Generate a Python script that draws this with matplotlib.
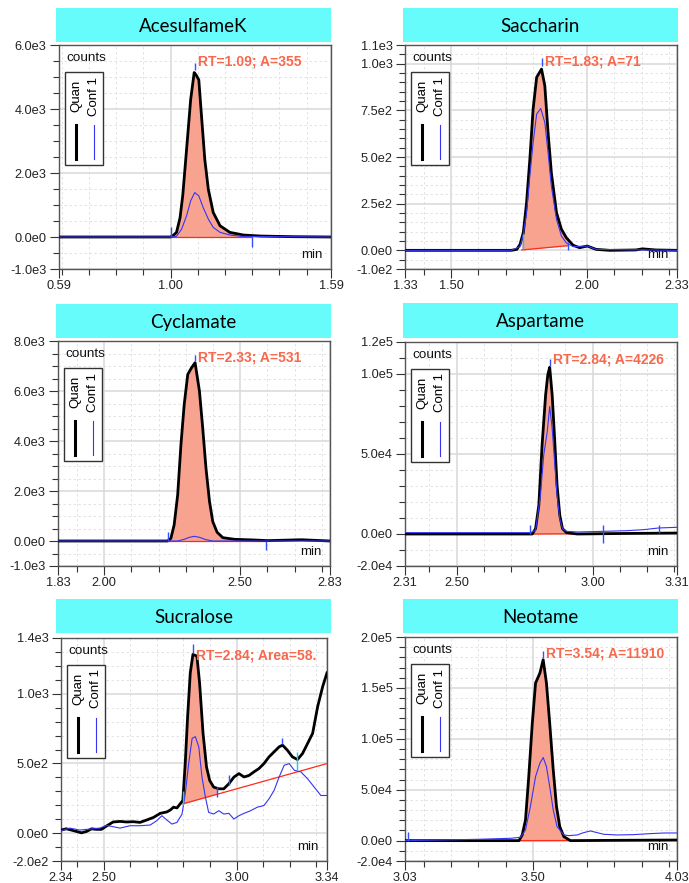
import numpy as np
import matplotlib
matplotlib.use('Agg')
import matplotlib.pyplot as plt
import matplotlib.transforms as mtransforms
from matplotlib.patches import Rectangle
from matplotlib.lines import Line2D
from matplotlib.ticker import FixedLocator, MultipleLocator, FuncFormatter

plt.rcParams['font.family'] = ['Liberation Sans', 'DejaVu Sans']

W, H = 689, 883

names = ['AcesulfameK', 'Saccharin', 'Cyclamate', 'Aspartame', 'Sucralose', 'Neotame']
rt = [1.089, 1.832, 2.334, 2.842, 2.838, 3.539]
rt_text = ['RT=1.09; A=355', 'RT=1.83; A=71', 'RT=2.33; A=531',
           'RT=2.84; A=4226', 'RT=2.84; Area=58.', 'RT=3.54; A=11910']

# AcesulfameK
ace_q_t = [0.59, 0.80, 1.00, 1.010, 1.022, 1.035, 1.045, 1.059, 1.074, 1.087, 1.095, 1.104,
           1.114, 1.126, 1.139, 1.157, 1.182, 1.218, 1.268, 1.33, 1.45, 1.59]
ace_q = [0, 0, 0, 50, 145, 600, 1300, 2735, 4290, 5140, 5050, 4910,
         3770, 2425, 1490, 767, 352, 145, 62, 30, 10, 0]
ace_c_t = [0.59, 1.00, 1.022, 1.041, 1.059, 1.074, 1.089, 1.104, 1.120, 1.139, 1.157, 1.182,
           1.218, 1.26, 1.59]
ace_c = [0, 0, 20, 250, 663, 1130, 1388, 1285, 922, 560, 300, 145, 62, 20, 0]
ace_base_t = [1.00, 1.30]
ace_base = [0, 0]
ace_marks = [(1.002, 0, 300, 'b'), (1.30, -300, 0, 'b'), (1.089, 5220, 5450, 'b')]

# Saccharin
sac_q_t = [1.33, 1.60, 1.72, 1.741, 1.753, 1.765, 1.777, 1.789, 1.801, 1.814, 1.832, 1.844,
           1.856, 1.868, 1.887, 1.905, 1.923, 1.948, 1.972, 2.000, 2.033, 2.082, 2.179,
           2.203, 2.252, 2.33]
sac_q = [0, 0, 0, 5, 32, 95, 256, 488, 757, 927, 971, 882,
         631, 417, 202, 113, 68, 27, 14, 23, 5, 0, 2, 8, 2, 0]
sac_c_t = [1.33, 1.72, 1.753, 1.765, 1.777, 1.789, 1.801, 1.814, 1.829, 1.844, 1.856, 1.868,
           1.887, 1.905, 1.923, 1.948, 2.00, 2.033, 2.33]
sac_c = [0, 0, 20, 86, 202, 399, 578, 730, 760, 685, 524, 345, 166, 77, 40, 20, 23, 5, 0]
sac_base_t = [1.759, 1.929]
sac_base = [2, 25]
sac_marks = [(1.762, 5, 90, 'c'), (1.930, 2, 45, 'b'), (1.832, 985, 1030, 'b')]

# Cyclamate
cyc_q_t = [1.83, 2.10, 2.233, 2.245, 2.257, 2.270, 2.282, 2.294, 2.307, 2.321, 2.334, 2.350,
           2.362, 2.374, 2.387, 2.399, 2.415, 2.436, 2.479, 2.553, 2.602, 2.725, 2.83]
cyc_q = [0, 0, 0, 107, 642, 1846, 3853, 5459, 6663, 6931, 7131, 5994,
         4522, 2917, 1579, 776, 348, 134, 67, 40, 15, 50, 0]
cyc_c_t = [1.83, 2.20, 2.270, 2.294, 2.313, 2.331, 2.350, 2.374, 2.399, 2.83]
cyc_c = [0, 0, 0, 67, 147, 187, 147, 54, 0, 0]
cyc_base_t = [2.233, 2.593]
cyc_base = [0, 0]
cyc_marks = [(2.233, 0, 350, 'b'), (2.593, -360, 0, 'b'), (2.334, 7200, 7460, 'b')]

# Aspartame
asp_q_t = [2.31, 2.60, 2.778, 2.790, 2.802, 2.814, 2.827, 2.835, 2.842, 2.851, 2.860, 2.869,
           2.879, 2.889, 2.904, 2.943, 3.10, 3.31]
asp_q = [0, 0, 0, 3347, 17990, 55650, 87030, 99580, 104200, 87030, 59830, 30540,
         11715, 3347, 837, 0, 300, 600]
asp_c_t = [2.31, 2.60, 2.771, 2.790, 2.808, 2.820, 2.833, 2.842, 2.851, 2.860, 2.869, 2.879,
           2.889, 2.904, 2.943, 3.041, 3.127, 3.188, 3.243, 3.31]
asp_c = [837, 837, 837, 2300, 24270, 49370, 64000, 79700, 66100, 45190, 24270, 9620,
         3347, 1674, 1255, 1674, 2092, 2720, 3766, 4184]
asp_base_t = [2.778, 3.31]
asp_base = [0, 600]
asp_marks = [(2.771, 0, 5440, 'b'), (3.038, -5440, 5860, 'b'), (3.243, 837, 5440, 'b'),
             (2.842, 104800, 109600, 'b')]

# Sucralose
suc_q_t = [2.340, 2.360, 2.379, 2.398, 2.417, 2.436, 2.455, 2.473, 2.492, 2.511, 2.536, 2.562,
           2.587, 2.612, 2.637, 2.662, 2.688, 2.713, 2.738, 2.751, 2.763, 2.776, 2.788, 2.798,
           2.807, 2.816, 2.826, 2.836, 2.851, 2.861, 2.874, 2.887, 2.899, 2.914, 2.933, 2.952,
           2.971, 2.990, 3.009, 3.028, 3.047, 3.065, 3.084, 3.103, 3.122, 3.141, 3.160, 3.173,
           3.191, 3.210, 3.229, 3.248, 3.267, 3.286, 3.305, 3.324, 3.340]
suc_q = [22, 31, 22, 12, 2, 12, 31, 27, 27, 51, 80, 84,
         80, 82, 77, 94, 113, 142, 152, 166, 186, 181, 210, 234,
         499, 836, 1150, 1282, 1270, 1077, 716, 475, 378, 330, 318, 318,
         354, 402, 427, 403, 414, 439, 463, 499, 547, 583, 619, 631,
         595, 547, 528, 571, 643, 716, 909, 1053, 1150]
suc_c_t = [2.340, 2.373, 2.411, 2.448, 2.486, 2.511, 2.536, 2.562, 2.599, 2.637, 2.675, 2.700,
           2.719, 2.738, 2.757, 2.776, 2.795, 2.807, 2.820, 2.833, 2.845, 2.858, 2.870, 2.883,
           2.895, 2.914, 2.933, 2.952, 2.971, 2.990, 3.009, 3.028, 3.053, 3.078, 3.103, 3.122,
           3.141, 3.160, 3.179, 3.198, 3.217, 3.242, 3.267, 3.292, 3.317, 3.340]
suc_c = [17, 36, 22, 29, 36, 55, 46, 36, 53, 53, 58, 89,
         125, 94, 65, 77, 137, 282, 499, 680, 692, 619, 402, 258,
         149, 137, 161, 137, 142, 101, 125, 142, 161, 186, 198, 246,
         306, 402, 487, 499, 451, 439, 390, 330, 270, 270]
suc_base_t = [2.798, 3.34]
suc_base = [210, 499]
suc_marks = [(2.798, 200, 300, 'c'), (2.927, 258, 330, 'b'), (2.971, 342, 414, 'b'),
             (3.170, 643, 684, 'b'), (3.229, 450, 583, 'c'), (2.838, 1294, 1354, 'b')]

# Neotame
neo_q_t = [3.03, 3.30, 3.449, 3.461, 3.473, 3.485, 3.498, 3.510, 3.526, 3.538, 3.550, 3.562,
           3.575, 3.587, 3.599, 3.614, 3.638, 3.80, 4.03]
neo_q = [0, 0, 0, 5574, 20330, 62960, 115400, 154800, 164600, 177700, 154800, 115400,
         69520, 33450, 13770, 3935, 0, 300, 600]
neo_c_t = [3.030, 3.173, 3.296, 3.418, 3.455, 3.473, 3.491, 3.510, 3.526, 3.538, 3.550, 3.562,
           3.575, 3.589, 3.614, 3.632, 3.663, 3.687, 3.712, 3.736, 3.761, 3.810, 3.871, 3.932,
           3.981, 4.030]
neo_c = [0, 650, 1300, 2295, 3279, 10490, 33450, 62960, 76070, 81650, 72790, 53120,
         30170, 13770, 5574, 4918, 5574, 7870, 9509, 7870, 6230, 5574, 5900, 6886,
         7500, 7542]
neo_base_t = [3.455, 4.03]
neo_base = [0, 300]
neo_marks = [(3.042, 0, 8500, 'b'), (3.539, 179400, 186600, 'b')]

# janelas de integração (inicio, fim)
fill_range = [(1.00, 1.30), (1.759, 1.929), (2.233, 2.593), (2.778, 2.943), (2.798, 2.927), (3.455, 3.64)]

# eixos
x_lims = [(0.59, 1.59), (1.33, 2.33), (1.83, 2.83), (2.31, 3.31), (2.34, 3.34), (3.03, 4.03)]
x_labeled = [[0.59, 1.00, 1.59], [1.33, 1.50, 2.00, 2.33], [1.83, 2.00, 2.50, 2.83],
             [2.31, 2.50, 3.00, 3.31], [2.34, 2.50, 3.00, 3.34], [3.03, 3.50, 4.03]]
y_lims = [(-1e3, 6e3), (-1e2, 1.1e3), (-1e3, 8e3), (-2e4, 1.2e5), (-2e2, 1.4e3), (-2e4, 2e5)]
y_labeled = [[-1e3, 0, 2e3, 4e3, 6e3], [-1e2, 0, 250, 500, 750, 1000, 1100],
             [-1e3, 0, 2e3, 4e3, 6e3, 8e3], [-2e4, 0, 5e4, 1e5, 1.2e5],
             [-2e2, 0, 5e2, 1e3, 1.4e3], [-2e4, 0, 5e4, 1e5, 1.5e5, 2e5]]
y_minor = [500, 50, 500, 1e4, 100, 1e4]

quan = [(ace_q_t, ace_q), (sac_q_t, sac_q), (cyc_q_t, cyc_q), (asp_q_t, asp_q), (suc_q_t, suc_q), (neo_q_t, neo_q)]
conf = [(ace_c_t, ace_c), (sac_c_t, sac_c), (cyc_c_t, cyc_c), (asp_c_t, asp_c), (suc_c_t, suc_c), (neo_c_t, neo_c)]
bases = [(ace_base_t, ace_base), (sac_base_t, sac_base), (cyc_base_t, cyc_base),
         (asp_base_t, asp_base), (suc_base_t, suc_base), (neo_base_t, neo_base)]
marks = [ace_marks, sac_marks, cyc_marks, asp_marks, suc_marks, neo_marks]

# posições em pixels (x0, y0, x1, y1)
ax_px = [(59, 45, 331, 269), (405, 45, 677, 269), (58, 341, 330, 566),
         (405, 342, 677, 566), (61, 638, 327, 861), (405, 637, 677, 861)]
title_px = [(56, 8, 331, 42), (403, 8, 678, 42), (56, 304, 331, 338),
            (403, 303, 678, 338), (56, 599, 331, 633), (403, 599, 678, 633)]

CYAN = '#66FCFC'
FILL = '#F8A390'
BLUE = '#3535F5'
MARK = {'b': '#3050FF', 'c': '#10D0E8'}
ANN = '#F8684C'


def rect(p):
    x0, y0, x1, y1 = p
    return [x0 / W, 1 - y1 / H, (x1 - x0) / W, (y1 - y0) / H]


def sci(v, pos=None):
    if v == 0:
        return '0.0e0'
    e = int(np.floor(np.log10(abs(v)) + 1e-9))
    return '{:.1f}e{}'.format(v / 10 ** e, e)


fig = plt.figure(figsize=(W / 100, H / 100), dpi=100)

for i in range(6):
    # caixa do título
    tax = fig.add_axes(rect(title_px[i]))
    tax.set_facecolor(CYAN)
    tax.set_xticks([])
    tax.set_yticks([])
    for s in tax.spines.values():
        s.set_visible(False)
    tax.text(0.5, 0.47, names[i], ha='center', va='center', fontsize=13.5,
             family=['Lato', 'DejaVu Sans'], transform=tax.transAxes)

    ax = fig.add_axes(rect(ax_px[i]))
    wpx = ax_px[i][2] - ax_px[i][0]
    hpx = ax_px[i][3] - ax_px[i][1]
    ax.set_xlim(*x_lims[i])
    ax.set_ylim(*y_lims[i])

    ax.xaxis.set_major_locator(FixedLocator(x_labeled[i]))
    ax.xaxis.set_minor_locator(MultipleLocator(0.1))
    ax.xaxis.set_major_formatter(FuncFormatter(lambda v, p: '{:.2f}'.format(v)))
    ax.yaxis.set_major_locator(FixedLocator(y_labeled[i]))
    ax.yaxis.set_minor_locator(MultipleLocator(y_minor[i]))
    ax.yaxis.set_major_formatter(FuncFormatter(sci))
    ax.tick_params(which='major', direction='out', length=6.5, width=0.8, color='#333333',
                   labelsize=9.2, pad=1.5, labelcolor='#222222')
    ax.tick_params(which='minor', direction='out', length=4, width=0.8, color='#333333')
    ax.tick_params(axis='y', pad=2.5)
    ax.grid(which='major', color='#d8d8d8', lw=1.1, ls='-', zorder=0)
    ax.grid(which='minor', color='#dedede', lw=0.6, ls=(0, (3, 3)), zorder=0)
    ax.set_axisbelow(True)
    for s in ax.spines.values():
        s.set_color('#555555')
        s.set_linewidth(1.0)

    qt, qv = np.array(quan[i][0]), np.array(quan[i][1], dtype=float)
    ct, cv = np.array(conf[i][0]), np.array(conf[i][1], dtype=float)
    bt, bv = bases[i]

    # área do pico
    a, b = fill_range[i]
    m = (qt > a) & (qt < b)
    xs = np.concatenate([[a], qt[m], [b]])
    ax.fill_between(xs, np.interp(xs, bt, bv), np.interp(xs, qt, qv), color=FILL, lw=0, zorder=2)
    ax.plot(bt, bv, color='#FF2A1A', lw=0.9, zorder=3)

    ax.plot(qt, qv, color='black', lw=2.0, zorder=4, solid_joinstyle='round')
    ax.plot(ct, cv, color=BLUE, lw=0.8, zorder=5)

    for t, lo, hi, c in marks[i]:
        ax.vlines(t, lo, hi, color=MARK[c], lw=1.0, zorder=6)

    # texto RT
    tr = mtransforms.offset_copy(mtransforms.blended_transform_factory(ax.transData, ax.transAxes),
                                 fig=fig, x=3, y=0, units='dots')
    txt = ax.text(rt[i], 1 - 17 / hpx, rt_text[i], transform=tr, color=ANN, fontsize=10,
                  fontweight='bold', ha='left', va='center', zorder=8)
    txt.set_clip_box(ax.bbox)
    txt.set_clip_on(True)

    # legenda e rótulos internos
    fx = lambda px: px / wpx
    fy = lambda px: 1 - px / hpx
    ax.text(fx(7), fy(13), 'counts', transform=ax.transAxes, fontsize=9.7, va='center', ha='left',
            color='#111111', zorder=8)
    ax.text(1 - fx(8), 14 / hpx, 'min', transform=ax.transAxes, fontsize=9.5, va='center', ha='right',
            color='#111111', zorder=8)
    ax.add_patch(Rectangle((fx(6), fy(120)), fx(38), 93 / hpx, transform=ax.transAxes,
                           facecolor='white', edgecolor='#333333', lw=1.0, zorder=9))
    ax.text(fx(17), fy(51), 'Quan', rotation=90, transform=ax.transAxes, fontsize=9.5,
            ha='center', va='center', zorder=10)
    ax.text(fx(35), fy(51), 'Conf 1', rotation=90, transform=ax.transAxes, fontsize=9.5,
            ha='center', va='center', zorder=10)
    ax.add_line(Line2D([fx(17), fx(17)], [fy(80), fy(114)], transform=ax.transAxes,
                       color='black', lw=2.2, zorder=10))
    ax.add_line(Line2D([fx(35), fx(35)], [fy(80), fy(114)], transform=ax.transAxes,
                       color=BLUE, lw=0.8, zorder=10))

fig.savefig('out.png', dpi=100)
